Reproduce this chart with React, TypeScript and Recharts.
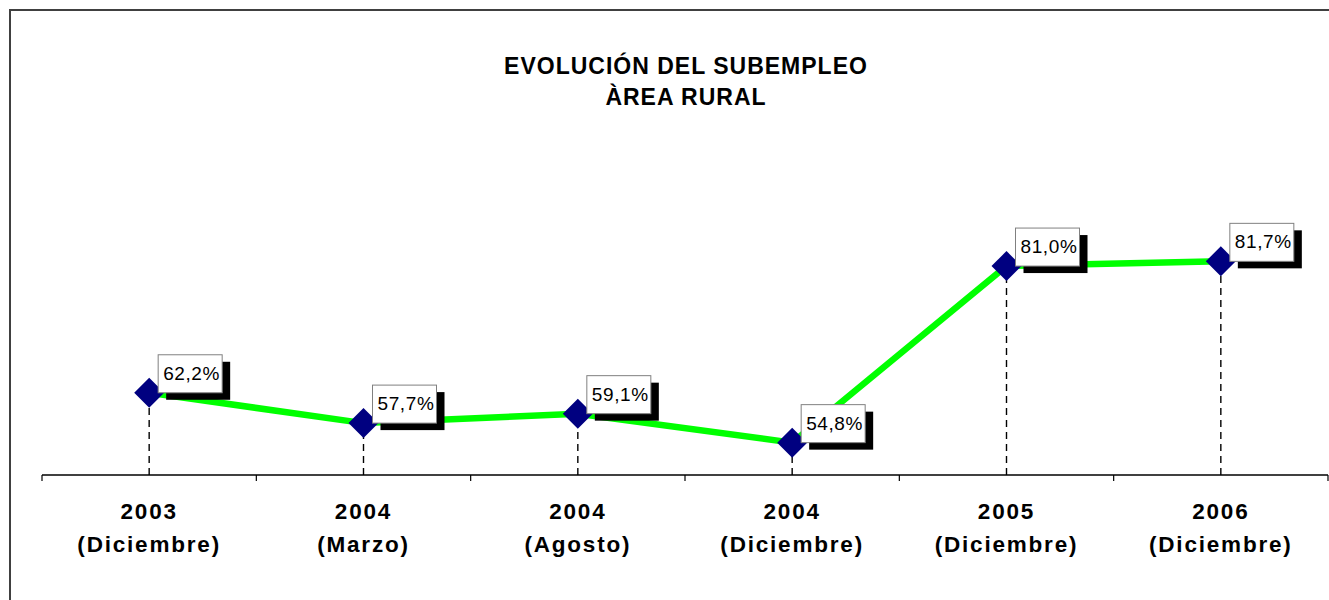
import { LabelList, Line, LineChart, ReferenceLine, XAxis, YAxis } from 'recharts'

const years = ['2003', '2004', '2004', '2004', '2005', '2006']
const months = ['(Diciembre)', '(Marzo)', '(Agosto)', '(Diciembre)', '(Diciembre)', '(Diciembre)']
const rates = [62.2, 57.7, 59.1, 54.8, 81.0, 81.7]
const titleLines = ['EVOLUCIÓN DEL SUBEMPLEO', 'ÀREA RURAL']
const yDomain: [number, number] = [50, 100]

const data = years.map((y, i) => ({ cat: `${y} ${months[i]}`, rate: rates[i] }))

const FONT = '"Liberation Sans", Arial, sans-serif'

const fmt = (v: number) => `${v.toFixed(1).replace('.', ',')}%`

/* Excel-ish category tick: two bold lines, tick marks on band edges */
function CatTick(props: any) {
  const { x, y, payload, index } = props
  const half = payload?.offset ?? 0
  const [year, ...rest] = String(payload.value).split(' ')
  const last = index === data.length - 1
  return (
    <g>
      <line x1={x - half} x2={x - half} y1={y - 6} y2={y} stroke="#000" strokeWidth={1.2} />
      {last && <line x1={x + half} x2={x + half} y1={y - 6} y2={y} stroke="#000" strokeWidth={1.2} />}
      <text
        x={x}
        textAnchor="middle"
        fontFamily={FONT}
        fontWeight="bold"
        fontSize={22.5}
        letterSpacing={1.8}
        fill="#000"
      >
        <tspan x={x} y={y + 38}>{year}</tspan>
        <tspan x={x} y={y + 71}>{rest.join(' ')}</tspan>
      </text>
    </g>
  )
}

function Diamond(p: any) {
  const { cx, cy, index } = p
  if (cx == null || cy == null) return <g key={index} />
  return (
    <polygon
      key={index}
      points={`${cx - 15},${cy} ${cx},${cy - 15} ${cx + 15},${cy} ${cx},${cy + 15}`}
      fill="#000080"
    />
  )
}

function RateLabel(p: any) {
  const x = p.x ?? p.viewBox?.x
  const y = p.y ?? p.viewBox?.y
  if (x == null || y == null) return null
  const w = 64
  const h = 38
  const bx = x + 9
  const by = y - 38
  return (
    <g>
      <rect x={bx + 8} y={by + 7} width={w} height={h} fill="#000" />
      <rect x={bx} y={by} width={w} height={h} fill="#fff" stroke="#808080" strokeWidth={1} />
      <text x={bx + 5} y={by + 25} fontFamily={FONT} fontSize={19} letterSpacing={0.6} fill="#000">
        {fmt(Number(p.value))}
      </text>
    </g>
  )
}

export default function App() {
  return (
    <div
      style={{
        position: 'absolute',
        left: 0,
        top: 0,
        width: 1329,
        height: 600,
        overflow: 'hidden',
        background: '#fff',
      }}
    >
      <div
        style={{
          position: 'absolute',
          left: 9,
          top: 9,
          width: 1400,
          height: 700,
          borderLeft: '2px solid #404040',
          borderTop: '2px solid #404040',
        }}
      />
      <svg width={1329} height={130} style={{ position: 'absolute', left: 0, top: 0 }}>
        {titleLines.map((t, i) => (
          <text
            key={t}
            x={686}
            y={74 + i * 31}
            textAnchor="middle"
            fontFamily={FONT}
            fontWeight="bold"
            fontSize={23}
            letterSpacing={1}
            fill="#000"
          >
            {t}
          </text>
        ))}
      </svg>
      <div style={{ position: 'absolute', left: 0, top: 0 }}>
        <LineChart width={1329} height={600} data={data} margin={{ top: 138, right: 1, left: 42, bottom: 0 }}>
          <XAxis
            dataKey="cat"
            scale="band"
            height={125}
            interval={0}
            allowDuplicatedCategory={false}
            tickLine={false}
            tickSize={6}
            tickMargin={0}
            axisLine={{ stroke: '#000', strokeWidth: 1.5 }}
            tick={<CatTick />}
          />
          <YAxis hide type="number" domain={yDomain} allowDataOverflow />
          {data.map((d) => (
            <ReferenceLine
              key={d.cat}
              segment={[
                { x: d.cat, y: yDomain[0] },
                { x: d.cat, y: d.rate },
              ]}
              stroke="#000"
              strokeWidth={1.4}
              strokeDasharray="7 5"
            />
          ))}
          <Line
            type="linear"
            dataKey="rate"
            stroke="#00ff00"
            strokeWidth={6.5}
            dot={<Diamond />}
            activeDot={false}
            isAnimationActive={false}
          >
            <LabelList dataKey="rate" content={<RateLabel />} />
          </Line>
        </LineChart>
      </div>
    </div>
  )
}
